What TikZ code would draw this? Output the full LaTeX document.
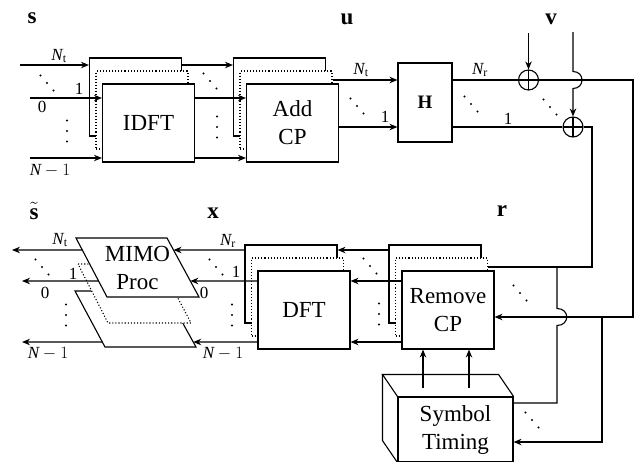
\documentclass[tikz,border=0pt]{standalone}
\usepackage{fontspec}
\setmainfont{Liberation Serif}
\usepackage{tikz}
\usetikzlibrary{arrows.meta,calc}

\begin{document}
\begin{tikzpicture}[x=1pt,y=-1pt,line width=1.1pt,
  >={Stealth[length=8pt,width=6.5pt]},
  font=\fontsize{23}{28}\selectfont,
  lbl/.style={font=\fontsize{17}{20}\selectfont,inner sep=0pt},
  vec/.style={font=\fontsize{23}{26}\selectfont,inner sep=0pt},
  blk/.style={draw,fill=white,minimum width=92pt,minimum height=78pt,
    inner sep=0pt,align=center},
  ghost/.style={blk,dotted},
  sum/.style={draw,circle,minimum size=20pt,inner sep=0pt,
    path picture={\draw[line width=1.1pt]
      (path picture bounding box.north) -- (path picture bounding box.south)
      (path picture bounding box.west) -- (path picture bounding box.east);}},
  vdts/.pic={\foreach \k in {-1,0,1} \fill (0,\k*10.5) circle (1.1pt);},
  ddts/.pic={\foreach \k in {-1,0,1} \fill (\k*6.5,\k*7.5) circle (1.1pt);},
]

\clip (0,0) rectangle (636,461);

% ------------------------------------------------------------------
% Transmitter: IDFT, cyclic prefix, channel, noise
% ------------------------------------------------------------------
\node[blk] (idftb) at (135.5,97) {};
\node[ghost] (idftm) at (142,110) {};
\node[blk] (idft) at (148.5,123) {IDFT};

\node[blk] (addcpb) at (279.5,97) {};
\node[ghost] (addcpm) at (286,110) {};
\node[blk] (addcp) at (292.5,123) {Add\\CP};

\node[draw,fill=white,minimum width=54pt,minimum height=79pt] (chan)
  at (425,102.5) {\fontsize{19}{22}\selectfont$\mathbf{H}$};

\node[sum] (sum1) at (528.5,80) {};
\node[sum] (sum2) at (573,127) {};

\coordinate (int) at (20,65);
\coordinate (ina) at (30,98);
\coordinate (inn) at (30,158);
\coordinate (ut) at (360,80);
\coordinate (ua) at (360,127);
\coordinate (va) at (528.5,33);
\coordinate (vb) at (573,32);

\draw[->] (int) -- (int -| idftb.west);
\draw[->] (ina) -- (ina -| idft.west);
\draw[->] (inn) -- (inn -| idft.west);
\draw[->] (idftb.east |- int) -- (addcpb.west |- int);
\draw[->] (idft.east |- ina) -- (addcp.west |- ina);
\draw[->] (idft.east |- inn) -- (addcp.west |- inn);
\draw[->] (addcpm.east |- ut) -- (chan.west |- ut);
\draw[->] (addcp.east |- ua) -- (chan.west |- ua);
\draw (chan.east |- sum1) -- (sum1.west);
\draw (chan.east |- sum2) -- (sum2.west);
\draw[->] (va) -- (sum1.north);
\draw[->] (vb) -- ($(vb |- sum1)+(0,-8.5)$)
  .. controls +(12,0) and +(12,0) .. ($(vb |- sum1)+(0,8.5)$)
  -- (sum2.north);

\node[vec] (ls) at (32,18) {$\mathbf{s}$};
\node[vec] (lu) at (347,19) {$\mathbf{u}$};
\node[vec] (lv) at (551,19) {$\mathbf{v}$};

\node[lbl] (lina) at (59,56) {$\mathit{N}_\mathrm{t}$};
\node[lbl] (linb) at (79,89) {1};
\node[lbl] (linc) at (42,107) {0};
\node[lbl] (lind) at (50,171) {$\mathit{N}-1$};
\node[lbl] (lua) at (361,70) {$\mathit{N}_\mathrm{t}$};
\node[lbl] (lub) at (385,117) {1};
\node[lbl] (lha) at (480,70) {$\mathit{N}_\mathrm{r}$};
\node[lbl] (lhb) at (508,119) {1};

\pic at (47,83) {ddts};
\pic at (67,131) {vdts};
\pic at (210,81) {ddts};
\pic at (217,127) {vdts};
\pic at (357,106) {ddts};
\pic at (471,104) {ddts};
\pic at (550,107) {ddts};

% ------------------------------------------------------------------
% Receiver: remove CP, timing, DFT, MIMO processing
% ------------------------------------------------------------------
\node[blk] (rcpb) at (435,284) {};
\node[ghost] (rcpm) at (441.5,297) {};
\node[blk] (rcp) at (448,310) {Remove\\CP};

\node[blk] (dftb) at (291,284) {};
\node[ghost] (dftm) at (297.5,297) {};
\node[blk] (dft) at (304,310) {DFT};

\node[draw,fill=white,minimum width=115pt,minimum height=65pt,
  inner sep=0pt,align=center] (timing) at (455.5,429.5) {Symbol\\Timing};
\draw (timing.north west) -- ++(-15,-22)
  -- ($(timing.north east)+(-15,-22)$) -- (timing.north east);
\draw (timing.north west) ++(-15,-22)
  -- ($(timing.south west)+(-15,-22)$) -- (timing.south west);

\coordinate (ra) at (633,317);
\coordinate (rb) at (592,267);
\coordinate (ta) at (557,403);
\coordinate (tb) at (602,442);
\coordinate (sa) at (423,388);
\coordinate (sb) at (469,388);

\draw[->] (sum1.east) -| (ra) -- (ra -| rcp.east);
\draw (sum2.east) -| (rb) -- (rb -| rcpm.east);
\draw (ta |- rb) -- ($(ta |- ra)+(0,-8.5)$)
  .. controls +(13,0) and +(13,0) .. ($(ta |- ra)+(0,8.5)$)
  -- (ta) -- (ta -| timing.east);
\draw[->] (tb |- ra) -- (tb) -- (tb -| timing.east);
\draw[->] (sa) -- (sa |- rcp.south);
\draw[->] (sb) -- (sb |- rcp.south);

\coordinate (dt) at (232,250);
\coordinate (da) at (232,281);
\coordinate (dn) at (232,342);
\draw[->] (rcpb.west |- dt) -- (dftb.east |- dt);
\draw[->] (rcp.west |- da) -- (dft.east |- da);
\draw[->] (rcp.west |- dn) -- (dft.east |- dn);

% MIMO processing, three sheets
\coordinate (mbtl) at (75,291);
\coordinate (mbtr) at (165,291);
\coordinate (mbbr) at (196,347);
\coordinate (mbbl) at (105,347);
\coordinate (mmtl) at (78,264);
\coordinate (mmtr) at (160,264);
\coordinate (mmbr) at (191,323);
\coordinate (mmbl) at (108,323);
\coordinate (mftl) at (76,238);
\coordinate (mftr) at (167,238);
\coordinate (mfbr) at (199,297);
\coordinate (mfbl) at (107,297);
\filldraw[fill=white] (mbtl) -- (mbtr) -- (mbbr) -- (mbbl) -- cycle;
\filldraw[fill=white,dotted] (mmtl) -- (mmtr) -- (mmbr) -- (mmbl) -- cycle;
\filldraw[fill=white] (mftl) -- (mftr) -- (mfbr) -- (mfbl) -- cycle;
\node[align=center,inner sep=0pt] (mimo) at (137.5,267.5) {MIMO\\Proc};

\coordinate (mfra) at ($(mftr)!0.2034!(mfbr)$);
\coordinate (mfrb) at ($(mftr)!0.7288!(mfbr)$);
\coordinate (mbrc) at ($(mbtr)!0.9107!(mbbr)$);
\coordinate (mfla) at ($(mftl)!0.2034!(mfbl)$);
\coordinate (mflb) at ($(mftl)!0.7288!(mfbl)$);
\coordinate (mblc) at ($(mbtl)!0.9107!(mbbl)$);
\coordinate (ot) at (12,250);
\coordinate (oa) at (22,281);
\coordinate (on) at (22,342);

\draw[->] (dftb.west |- dt) -- (mfra);
\draw[->] (dft.west |- da) -- (mfrb);
\draw[->] (dft.west |- dn) -- (mbrc);
\draw[->] (mfla) -- (ot);
\draw[->] (mflb) -- (oa);
\draw[->] (mblc) -- (on);

\node[vec] (lst) at (34,211) {$\tilde{\mathbf{s}}$};
\node[vec] (lx) at (213,213) {$\mathbf{x}$};
\node[vec] (lr) at (502,211) {$\mathbf{r}$};

\node[lbl] (lda) at (228,241) {$\mathit{N}_\mathrm{r}$};
\node[lbl] (ldb) at (236,272) {1};
\node[lbl] (ldc) at (204,293) {0};
\node[lbl] (ldd) at (223,354) {$\mathit{N}-1$};
\node[lbl] (loa) at (60,240) {$\mathit{N}_\mathrm{t}$};
\node[lbl] (lob) at (73,274) {1};
\node[lbl] (loc) at (45,293) {0};
\node[lbl] (lod) at (48,354) {$\mathit{N}-1$};

\pic at (370,266) {ddts};
\pic at (379,314) {vdts};
\pic at (216,267) {ddts};
\pic at (232,315) {vdts};
\pic at (42,267) {ddts};
\pic at (66,315) {vdts};
\pic at (520,293) {ddts};
\pic at (532,420) {ddts};

\end{tikzpicture}
\end{document}
